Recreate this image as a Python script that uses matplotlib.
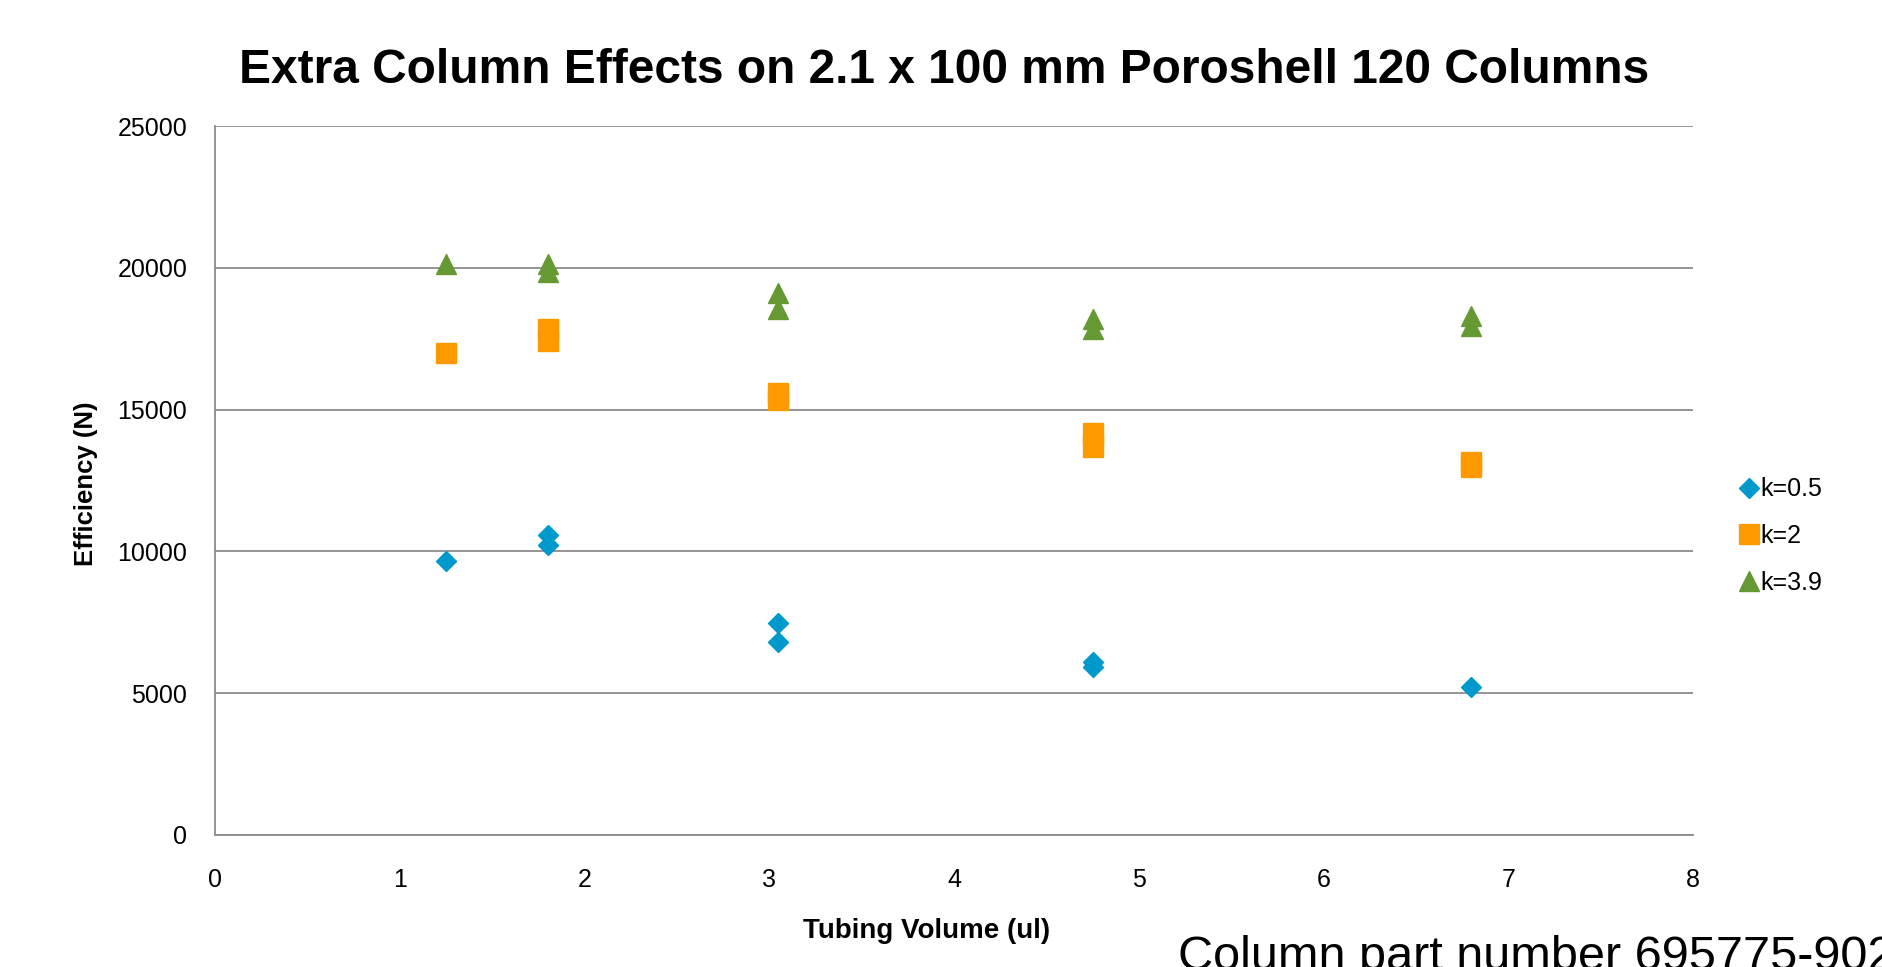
import matplotlib
matplotlib.use("Agg")
import matplotlib.pyplot as plt

plt.rcParams['font.family'] = ['Liberation Sans', 'DejaVu Sans']

# tubing volume (ul) and efficiency (N) per retention factor
x_k05 = [1.25, 1.8, 1.8, 3.05, 3.05, 4.75, 4.75, 6.8]
y_k05 = [9650, 10590, 10230, 7460, 6810, 6110, 5940, 5210]

x_k2 = [1.25, 1.8, 1.8, 3.05, 3.05, 4.75, 4.75, 6.8, 6.8]
y_k2 = [17000, 17850, 17430, 15580, 15340, 14170, 13670, 13140, 12970]

x_k39 = [1.25, 1.8, 1.8, 3.05, 3.05, 4.75, 4.75, 6.8, 6.8]
y_k39 = [20130, 20130, 19840, 19120, 18530, 18190, 17840, 18310, 17960]

labels = ['k=0.5', 'k=2', 'k=3.9']
x_ticks = [0, 1, 2, 3, 4, 5, 6, 7, 8]
y_ticks = [0, 5000, 10000, 15000, 20000, 25000]

W, H = 1883, 967
fig = plt.figure(figsize=(W / 100, H / 100), dpi=100)
ax = fig.add_axes([215 / W, 1 - 835 / H, (1693 - 215) / W, (835 - 126) / H])

grid_col = '#8c8c8c'
ax.plot(x_k05, y_k05, linestyle='none', marker='D', markersize=10.5, color='#0099cc', label=labels[0])
ax.plot(x_k2, y_k2, linestyle='none', marker='s', markersize=14.5, color='#ff9900', label=labels[1])
ax.plot(x_k39, y_k39, linestyle='none', marker='^', markersize=14.5, color='#669933', label=labels[2])

ax.set_xlim(0, 8)
ax.set_ylim(0, 25000)
ax.set_xticks(x_ticks)
ax.set_yticks(y_ticks)
ax.tick_params(axis='both', length=0, labelsize=18)
ax.tick_params(axis='x', pad=24)
ax.tick_params(axis='y', pad=20)
ax.yaxis.grid(True, color=grid_col, linewidth=1.3)
ax.set_axisbelow(True)
for s in ['top', 'right']:
    ax.spines[s].set_visible(False)
for s in ['left', 'bottom']:
    ax.spines[s].set_color(grid_col)
    ax.spines[s].set_linewidth(1.3)

fig.text(944 / W, 1 - 83 / H, 'Extra Column Effects on 2.1 x 100 mm Poroshell 120 Columns',
         ha='center', va='baseline', fontsize=34.5, fontweight='bold')
fig.text(927 / W, 1 - 938 / H, 'Tubing Volume (ul)', ha='center', va='baseline',
         fontsize=20, fontweight='bold')
fig.text(86 / W, 0.5, 'Efficiency (N)', rotation=90, ha='center', va='center',
         fontsize=18.5, fontweight='bold')
# part number runs off the bottom-right corner, as in the original slide
fig.text(1178 / W, 1 - 970 / H, 'Column part number 695775-902', ha='left', va='baseline',
         fontsize=35)

ax.legend(loc='center left', bbox_to_anchor=(1740 / W, 1 - 536 / H), bbox_transform=fig.transFigure,
          frameon=False, fontsize=18, handlelength=0.7, handletextpad=0.1, borderpad=0,
          borderaxespad=0, labelspacing=0.9, markerscale=1.0)

fig.savefig('out.png', dpi=100)
